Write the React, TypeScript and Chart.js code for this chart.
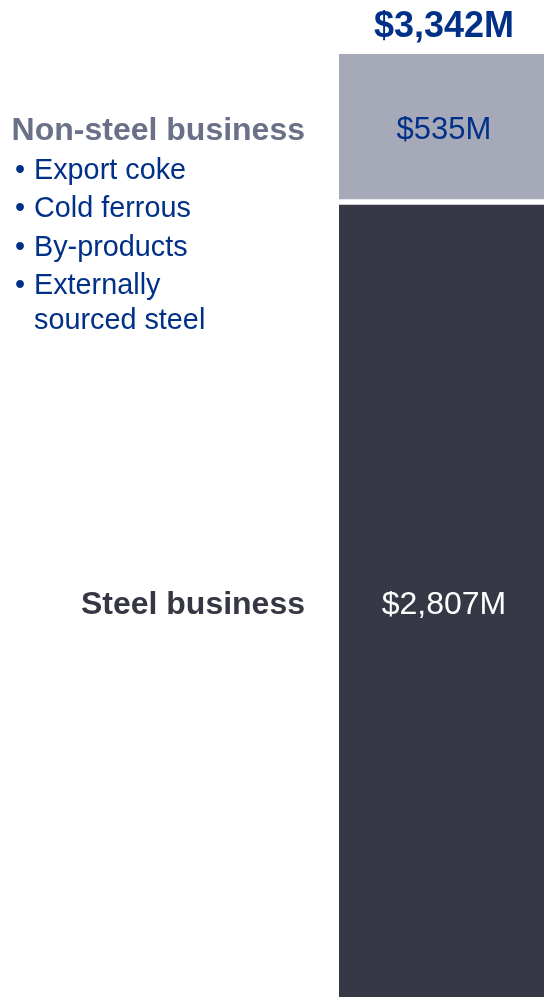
import React, { useEffect, useRef } from "react";
import { Chart, registerables } from "chart.js";

Chart.register(...registerables);

const categories = ["Revenue"];
const steelLabel = "Steel business";
const nonSteelLabel = "Non-steel business";
const steelValues = [2807];
const nonSteelValues = [535];
const nonSteelItems = ["Export coke", "Cold ferrous", "By-products", "Externally\nsourced steel"];

const NAVY = "#003087";
const LIGHT_BAR = "#A6A9B7";
const DARK_BAR = "#363845";
const GREY_TEXT = "#6B7089";
const DARK_TEXT = "#353744";
const FONT = "'Liberation Sans', Arial, Helvetica, sans-serif";
const GAP = 6;

const fmt = (v: number) => "$" + v.toLocaleString("en-US") + "M";

const labelsPlugin = {
  id: "customLabels",
  afterDatasetsDraw(chart: any) {
    const ctx = chart.ctx as CanvasRenderingContext2D;
    const area = chart.chartArea;
    const steelEl = chart.getDatasetMeta(0).data[0];
    const nonEl = chart.getDatasetMeta(1).data[0];
    if (!steelEl || !nonEl) return;
    ctx.save();

    // total above the bar
    const total = steelValues[0] + nonSteelValues[0];
    ctx.textAlign = "center";
    ctx.textBaseline = "alphabetic";
    ctx.fillStyle = NAVY;
    ctx.font = `bold 36px ${FONT}`;
    ctx.fillText(fmt(total), nonEl.x, nonEl.y - 17);

    // segment values
    const nonMid = (nonEl.y + nonEl.base - GAP) / 2;
    const steelMid = (steelEl.y + steelEl.base) / 2;
    ctx.font = `31px ${FONT}`;
    ctx.fillStyle = NAVY;
    ctx.fillText(fmt(nonSteelValues[0]), nonEl.x, nonMid + 12.5);
    ctx.font = `32px ${FONT}`;
    ctx.fillStyle = "#FFFFFF";
    ctx.fillText(fmt(steelValues[0]), steelEl.x, steelMid + 13);

    // left labels
    const rightX = area.left - 34;
    ctx.textAlign = "right";
    ctx.font = `bold 32px ${FONT}`;
    ctx.fillStyle = GREY_TEXT;
    const headBase = nonMid + 13.5;
    ctx.fillText(nonSteelLabel, rightX, headBase);
    ctx.fillStyle = DARK_TEXT;
    ctx.fillText(steelLabel, rightX, steelMid + 13.5);

    // bullets
    ctx.textAlign = "left";
    ctx.font = `28.8px ${FONT}`;
    ctx.fillStyle = NAVY;
    let y = headBase + 39;
    nonSteelItems.forEach((item) => {
      const lines = item.split("\n");
      ctx.fillText("\u2022", 15, y);
      lines.forEach((ln, i) => {
        ctx.fillText(ln, 34, y);
        if (i < lines.length - 1) y += 35;
      });
      y += 38.3;
    });

    ctx.restore();
  },
};

export default function App() {
  const ref = useRef<HTMLCanvasElement>(null);

  useEffect(() => {
    if (!ref.current) return;
    const chart = new Chart(ref.current, {
      type: "bar",
      data: {
        labels: categories,
        datasets: [
          {
            label: steelLabel,
            data: steelValues,
            backgroundColor: DARK_BAR,
            borderWidth: 0,
            barPercentage: 1,
            categoryPercentage: 1,
          },
          {
            label: nonSteelLabel,
            data: nonSteelValues,
            backgroundColor: LIGHT_BAR,
            borderColor: "#FFFFFF",
            borderWidth: { top: 0, left: 0, right: 0, bottom: GAP },
            borderSkipped: false,
            barPercentage: 1,
            categoryPercentage: 1,
          },
        ],
      },
      options: {
        responsive: false,
        animation: false,
        layout: { padding: { top: 54, left: 339, right: 0, bottom: 0 } },
        plugins: {
          legend: { display: false },
          tooltip: { enabled: false },
          title: { display: false },
        },
        scales: {
          x: { stacked: true, display: false },
          y: {
            stacked: true,
            display: false,
            min: 0,
            max: steelValues[0] + nonSteelValues[0],
          },
        },
      },
      plugins: [labelsPlugin],
    });
    return () => chart.destroy();
  }, []);

  return (
    <div
      style={{
        position: "absolute",
        left: 0,
        top: 0,
        width: 544,
        height: 997,
        overflow: "hidden",
        background: "#FFFFFF",
      }}
    >
      <canvas ref={ref} width={549} height={997} style={{ display: "block" }} />
    </div>
  );
}
